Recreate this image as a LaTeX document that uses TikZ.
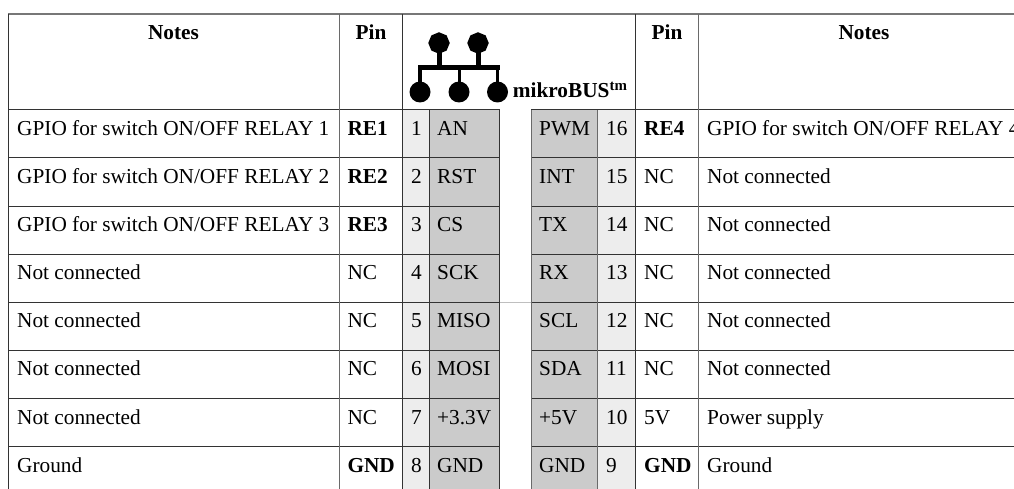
\documentclass[tikz,border=0pt]{standalone}
\usepackage{fontspec}
\usetikzlibrary{shapes.geometric}
\setmainfont{Liberation Serif}
\definecolor{pinbg}{HTML}{EDEDED}
\definecolor{sigbg}{HTML}{CBCBCB}
\definecolor{rule}{HTML}{333333}
\definecolor{softrule}{HTML}{6A6A6A}
\definecolor{toprule}{HTML}{777777}
\tikzset{
  cell/.style={inner sep=0pt,font=\fontsize{21.3bp}{24bp}\selectfont,text=black,anchor=base west},
  boldcell/.style={cell,font=\fontsize{21.3bp}{24bp}\selectfont\bfseries},
  head/.style={boldcell,anchor=base},
  grid/.style={draw=rule,line width=1bp},
  softgrid/.style={draw=softrule,line width=1bp},
  logo/.style={draw=black,line width=5bp},
  logothin/.style={draw=black,line width=3.8bp},
  dot/.style={circle,fill=black,inner sep=0pt,minimum size=21bp},
  oct/.style={regular polygon,regular polygon sides=8,shape border rotate=22.5,fill=black,inner sep=0pt,minimum size=21.5bp}
}
\begin{document}
\begin{tikzpicture}[x=1bp,y=-1bp]
\useasboundingbox (0,0) rectangle (1014,489);
\fill[white] (0,0) rectangle (1014,489);
\fill[pinbg] (403,110) rectangle (429,489);
\fill[sigbg] (429,110) rectangle (499,489);
\fill[sigbg] (531,110) rectangle (598,489);
\fill[pinbg] (598,110) rectangle (635,489);
% horizontal rules
\draw[toprule,line width=1.4bp] (8,14) -- (1014,14);
\foreach \y in {110,158,206.2,254.3,302.3,350.3,398.6,446.6} {
  \draw[grid] (8,\y) -- (499.5,\y);
  \draw[grid] (531,\y) -- (1014,\y);
}
\draw[draw=black!25,line width=1bp] (499.5,302.6) -- (531,302.6);
% vertical rules
\foreach \x in {8,402.5,635.5} \draw[grid] (\x,14) -- (\x,489);
\foreach \x in {339.5,698.5} \draw[softgrid] (\x,14) -- (\x,489);
\foreach \x in {429,499.5} \draw[grid] (\x,110) -- (\x,489);
\foreach \x in {531,597.5} \draw[softgrid] (\x,110) -- (\x,489);
% logo
\node[oct] (s1) at (439,43) {};
\node[oct] (s2) at (478,43) {};
\node[dot] (c1) at (420,92) {};
\node[dot] (c2) at (459,92) {};
\node[dot] (c3) at (497.5,92) {};
\coordinate (bl) at (420,67.7);
\coordinate (br) at (497.5,67.7);
\draw[logo] ([xshift=-2bp]bl) -- ([xshift=2bp]br);
\draw[logothin] (c1.center) -- (c1.center |- bl);
\draw[logothin] (c3.center) -- (c3.center |- br);
\draw[draw=black,line width=3bp] (c2.center) -- (c2.center |- bl);
\draw[logo] (s1.center) -- (s1.center |- bl);
\draw[logo] (s2.center) -- (s2.center |- bl);
\node[boldcell] (mb) at (512.7,98) {mikroBUS\textsuperscript{tm}};
% headers
\node[head] (h1) at (173.5,39.5) {Notes};
\node[head] (h2) at (371,39.5) {Pin};
\node[head] (h3) at (667,39.5) {Pin};
\node[head] (h4) at (864,39.5) {Notes};
% rows
\node[cell] (a1) at (17,136) {GPIO for switch ON/OFF RELAY 1};
\node[cell] (a2) at (17,184) {GPIO for switch ON/OFF RELAY 2};
\node[cell] (a3) at (17,232) {GPIO for switch ON/OFF RELAY 3};
\node[cell] (a4) at (17,280) {Not connected};
\node[cell] (a5) at (17,328) {Not connected};
\node[cell] (a6) at (17,376) {Not connected};
\node[cell] (a7) at (17,424) {Not connected};
\node[cell] (a8) at (17,472) {Ground};
\node[boldcell] (b1) at (347.3,136) {RE1};
\node[boldcell] (b2) at (347.3,184) {RE2};
\node[boldcell] (b3) at (347.3,232) {RE3};
\node[cell] (b4) at (347.3,280) {NC};
\node[cell] (b5) at (347.3,328) {NC};
\node[cell] (b6) at (347.3,376) {NC};
\node[cell] (b7) at (347.3,424) {NC};
\node[boldcell] (b8) at (347.3,472) {GND};
\foreach \n [count=\i] in {1,...,8} \node[cell] (p\i) at (411,88+48*\i) {\n};
\node[cell] (c1t) at (437,136) {AN};
\node[cell] (c2t) at (437,184) {RST};
\node[cell] (c3t) at (437,232) {CS};
\node[cell] (c4t) at (437,280) {SCK};
\node[cell] (c5t) at (437,328) {MISO};
\node[cell] (c6t) at (437,376) {MOSI};
\node[cell] (c7t) at (437,424) {+3.3V};
\node[cell] (c8t) at (437,472) {GND};
\node[cell] (d1) at (539,136) {PWM};
\node[cell] (d2) at (539,184) {INT};
\node[cell] (d3) at (539,232) {TX};
\node[cell] (d4) at (539,280) {RX};
\node[cell] (d5) at (539,328) {SCL};
\node[cell] (d6) at (539,376) {SDA};
\node[cell] (d7) at (539,424) {+5V};
\node[cell] (d8) at (539,472) {GND};
\foreach \n/\i in {16/1,15/2,14/3,13/4,12/5,11/6,10/7,9/8} \node[cell] (q\i) at (606,88+48*\i) {\n};
\node[boldcell] (e1) at (644,136) {RE4};
\node[cell] (e2) at (644,184) {NC};
\node[cell] (e3) at (644,232) {NC};
\node[cell] (e4) at (644,280) {NC};
\node[cell] (e5) at (644,328) {NC};
\node[cell] (e6) at (644,376) {NC};
\node[cell] (e7) at (644,424) {5V};
\node[boldcell] (e8) at (644,472) {GND};
\node[cell] (f1) at (707,136) {GPIO for switch ON/OFF RELAY 4};
\foreach \i in {2,...,6} \node[cell] (f\i) at (707,88+48*\i) {Not connected};
\node[cell] (f7) at (707,424) {Power supply};
\node[cell] (f8) at (707,472) {Ground};
\end{tikzpicture}
\end{document}
